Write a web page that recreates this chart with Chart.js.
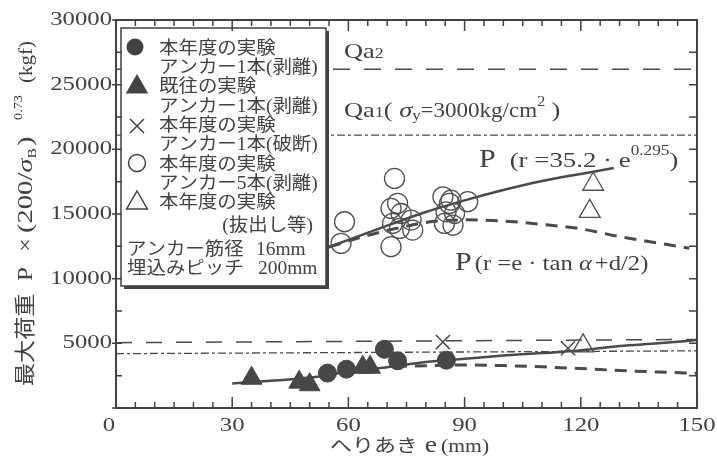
<!DOCTYPE html>
<html>
<head>
<meta charset="utf-8">
<script src="https://cdn.jsdelivr.net/npm/chart.js@4.4.1/dist/chart.umd.min.js"></script>
<style>
  body { margin: 0; background: #fff; }
  canvas { display: block; }
</style>
</head>
<body>
<canvas id="chart" width="717" height="461"></canvas>
<script>
// measured points (e in mm, P in kgf)
const filledCircleE = [54.6, 59.5, 69.3, 72.7, 85.3];
const filledCircleP = [2700, 3000, 4540, 3650, 3700];

const filledTriE = [35.0, 47.3, 50.0, 63.7, 65.6];
const filledTriP = [2300, 2000, 1800, 3150, 3150];

const crossE = [84.4, 116.7];
const crossP = [5100, 4620];

const openCircleE = [59.0, 58.1, 71.9, 72.7, 71.0, 73.6, 71.4, 76.2, 76.6, 73.2, 71.0, 84.4, 86.1, 85.2, 84.8, 87.0, 87.4, 90.8, 86.5];
const openCircleP = [14400, 12730, 17750, 15820, 15430, 15040, 14270, 14530, 13760, 13890, 12470, 16330, 15820, 15170, 14270, 14140, 15040, 15950, 16070];

const openTriE = [120.6, 123.2, 122.3];
const openTriP = [4800, 17300, 15200];

// curves
const fitHighE = [55, 60, 70, 80, 90, 100, 110, 120, 128.5];
const fitHighP = [12450, 13000, 14100, 15150, 16050, 16850, 17550, 18100, 18550];

const tanHighE = [55, 65, 74, 80, 90, 100, 110, 120, 130, 140, 148];
const tanHighP = [12450, 13350, 14000, 14350, 14550, 14450, 14200, 13850, 13250, 12750, 12350];

const fitLowE = [30, 40, 50, 60, 70, 80, 90, 100, 110, 118, 130, 140, 150];
const fitLowP = [1900, 2100, 2350, 2800, 3150, 3550, 3800, 4050, 4250, 4400, 4800, 5000, 5250];

const tanLowE = [72, 80, 90, 100, 110, 120, 130, 140, 150];
const tanLowP = [3200, 3270, 3320, 3280, 3180, 3050, 2900, 2780, 2680];

const limitE = [0, 150];
const qa2HighP = [26200, 26200];
const qa2LowP = [5050, 5300];
const qa1HighP = [21100, 21100];
const qa1LowP = [4200, 4420];

const xLabels = [0, 30, 60, 90, 120, 150];
const yLabels = [5000, 10000, 15000, 20000, 25000, 30000];

const SERIF = '"Liberation Serif", "Noto Sans CJK JP"';
const CJK = '"Noto Sans CJK JP", "Liberation Serif"';
const INK = '#424242';

const pts = (xs, ys) => xs.map((x, i) => ({ x: x, y: ys[i] }));

function marks(data, style, r, fill, border, bw) {
  return {
    data: data, showLine: false, order: 0,
    pointStyle: style, pointRadius: r, pointHoverRadius: r,
    backgroundColor: fill, borderColor: border, pointBorderWidth: bw
  };
}
function curve(data, dash, width, smooth) {
  return {
    data: data, showLine: true, order: 1, pointRadius: 0, pointHoverRadius: 0,
    borderColor: '#4a4a4a', borderWidth: width, borderDash: dash,
    tension: smooth ? 0.4 : 0, cubicInterpolationMode: smooth ? 'monotone' : 'default'
  };
}

// draw a run of text pieces, left to right, from (x, y) on the alphabetic baseline
// a piece with "at" is placed at that offset from x instead of after the previous one
function run(ctx, parts, x, y) {
  let cx = x;
  parts.forEach(p => {
    if (p.at !== undefined) cx = x + p.at;
    const sx = p.sx || 1.2;
    ctx.font = (p.italic ? 'italic ' : '') + p.px + 'px ' + (p.family || SERIF);
    const w = ctx.measureText(p.t).width * sx;
    ctx.save();
    ctx.translate(cx, y + (p.dy || 0));
    ctx.scale(sx, 1);
    ctx.textAlign = 'left';
    ctx.textBaseline = 'alphabetic';
    ctx.fillText(p.t, 0, 0);
    ctx.restore();
    cx += w + (p.gap || 0);
  });
  return cx - x;
}
function label(ctx, s, x, y, px, align, sx) {
  sx = sx || 1.3;
  ctx.font = px + 'px ' + SERIF;
  const w = ctx.measureText(s).width * sx;
  let left = x;
  if (align === 'right') left = x - w;
  if (align === 'center') left = x - w / 2;
  ctx.save();
  ctx.translate(left, y);
  ctx.scale(sx, 1);
  ctx.textAlign = 'left';
  ctx.textBaseline = 'middle';
  ctx.fillText(s, 0, 0);
  ctx.restore();
}

const decor = {
  id: 'decor',
  afterDatasetsDraw(chart) {
    const ctx = chart.ctx;
    const a = chart.chartArea;
    const xs = chart.scales.x, ys = chart.scales.y;
    ctx.save();
    ctx.fillStyle = INK;
    ctx.strokeStyle = INK;

    // legend box
    const bx = 121, by = 28, bw = 205, bh = 258;
    ctx.fillStyle = '#fff';
    ctx.fillRect(bx, by, bw, bh);
    ctx.lineWidth = 1.5;
    ctx.strokeRect(bx, by, bw, bh);
    ctx.fillStyle = INK;
    ctx.fillRect(bx + bw, by + 3, 3, bh);
    ctx.fillRect(bx + 3, by + bh, bw, 3);

    // frame
    ctx.lineWidth = 2;
    ctx.strokeRect(a.left, a.top, a.right - a.left, a.bottom - a.top);

    // ticks, all pointing inward
    ctx.lineWidth = 1.5;
    ctx.beginPath();
    for (let e = 0; e <= 150; e += 5) {
      const px = xs.getPixelForValue(e);
      const len = e % 30 === 0 ? 11 : 6;
      ctx.moveTo(px, a.bottom); ctx.lineTo(px, a.bottom - len);
      ctx.moveTo(px, a.top); ctx.lineTo(px, a.top + len);
    }
    for (let v = 0; v <= 30000; v += 2500) {
      const py = ys.getPixelForValue(v);
      const major = v % 5000 === 0;
      ctx.moveTo(a.left - (major ? 4 : 0), py); ctx.lineTo(a.left + 6, py);
      ctx.moveTo(a.right, py); ctx.lineTo(a.right - 8, py);
    }
    ctx.stroke();

    // tick labels
    yLabels.forEach(v => label(ctx, String(v), a.left - 4, ys.getPixelForValue(v), 19, 'right'));
    xLabels.forEach(v => {
      const px = v === 0 ? a.left - 7 : xs.getPixelForValue(v);
      label(ctx, String(v), px, 426, 19, 'center');
    });

    // x title
    run(ctx, [
      { t: 'へりあき', px: 18, family: CJK, sx: 1.22, gap: 7 },
      { t: 'e', px: 23, sx: 1.2, gap: 4 },
      { t: '(mm)', px: 18, sx: 1.2 }
    ], 330, 452);

    // y title, rotated
    ctx.save();
    ctx.translate(32, 386);
    ctx.rotate(-Math.PI / 2);
    run(ctx, [
      { t: '最大荷重', px: 21, family: CJK, sx: 1.1, at: 0 },
      { t: 'P', px: 22, sx: 1.15, at: 105 },
      { t: '×', px: 20, sx: 1.2, at: 134 },
      { t: '(200/', px: 22, sx: 1.3, at: 153 },
      { t: 'σ', px: 22, sx: 1.3, italic: true },
      { t: 'B', px: 13, sx: 1.2, dy: 4, gap: 2 },
      { t: ')', px: 22, sx: 1.3 },
      { t: '0.73', px: 13, sx: 1.1, dy: -10, at: 266 },
      { t: '(kgf)', px: 18, sx: 1.17, at: 303 }
    ], 0, 0);
    ctx.restore();

    // annotations in the plot
    run(ctx, [{ t: 'Qa', px: 22 }, { t: '2', px: 15 }], 344, 58);
    run(ctx, [
      { t: 'Qa', px: 22 }, { t: '1', px: 15 }, { t: '( ', px: 22 },
      { t: 'σ', px: 22, italic: true }, { t: 'y', px: 14, dy: 3 },
      { t: '=3000kg/cm', px: 20, sx: 1.15 }, { t: '2', px: 14, dy: -11, gap: 6 },
      { t: ')', px: 22 }
    ], 344, 117);
    run(ctx, [
      { t: 'P', px: 25, gap: 14 }, { t: '(r =35.2 · e', px: 22, sx: 1.22 },
      { t: '0.295', px: 15, dy: -12, sx: 1.15 }, { t: ')', px: 22 }
    ], 479, 167);
    run(ctx, [
      { t: 'P', px: 25, gap: 3 }, { t: '(r =e · tan ', px: 22, sx: 1.12 },
      { t: 'α', px: 22, italic: true, sx: 1.12, gap: 3 }, { t: '+d/2)', px: 22, sx: 1.12 }
    ], 455, 270);

    // legend symbols
    ctx.lineWidth = 1.5;
    ctx.beginPath(); ctx.arc(135, 47, 8.5, 0, Math.PI * 2); ctx.fill();
    const tri = (cx, cy, r, filled) => {
      ctx.beginPath();
      ctx.moveTo(cx, cy - r);
      ctx.lineTo(cx + r * 0.866, cy + r / 2);
      ctx.lineTo(cx - r * 0.866, cy + r / 2);
      ctx.closePath();
      filled ? ctx.fill() : ctx.stroke();
    };
    tri(137, 87, 13, true);
    ctx.beginPath();
    ctx.moveTo(130, 119); ctx.lineTo(144, 133); ctx.moveTo(144, 119); ctx.lineTo(130, 133);
    ctx.stroke();
    ctx.beginPath(); ctx.arc(137, 163, 8.5, 0, Math.PI * 2); ctx.stroke();
    tri(137, 203, 12, false);

    // legend text
    const lt = (s, x, y) => run(ctx, [{ t: s, px: 18, family: SERIF, sx: 1.08 }], x, y);
    lt('本年度の実験', 159, 54);
    lt('アンカー1本(剥離)', 159, 73);
    lt('既往の実験', 159, 92);
    lt('アンカー1本(剥離)', 159, 112);
    lt('本年度の実験', 159, 131);
    lt('アンカー1本(破断)', 159, 150);
    lt('本年度の実験', 159, 170);
    lt('アンカー5本(剥離)', 159, 189);
    lt('本年度の実験', 159, 208);
    ctx.font = '18px ' + SERIF;
    const w = ctx.measureText('(抜出し等)').width * 1.08;
    lt('(抜出し等)', 313 - w, 231);
    lt('アンカー筋径', 127, 255);
    lt('16mm', 256, 255);
    lt('埋込みピッチ', 127, 274);
    lt('200mm', 258, 274);

    ctx.restore();
  }
};

new Chart(document.getElementById('chart'), {
  type: 'scatter',
  data: {
    datasets: [
      marks(pts(filledCircleE, filledCircleP), 'circle', 9, '#474747', '#474747', 1),
      marks(pts(filledTriE, filledTriP), 'triangle', 12, '#474747', '#474747', 1),
      marks(pts(crossE, crossP), 'crossRot', 10, 'rgba(0,0,0,0)', '#4a4a4a', 1.5),
      marks(pts(openCircleE, openCircleP), 'circle', 10, 'rgba(0,0,0,0)', '#505050', 1.3),
      marks(pts(openTriE, openTriP), 'triangle', 12, 'rgba(0,0,0,0)', '#505050', 1.3),
      curve(pts(fitHighE, fitHighP), [], 2.5, true),
      curve(pts(tanHighE, tanHighP), [12, 8], 3, true),
      curve(pts(fitLowE, fitLowP), [], 2.5, true),
      curve(pts(tanLowE, tanLowP), [12, 8], 3, true),
      curve(pts(limitE, qa2HighP), [17, 14], 1.5, false),
      curve(pts(limitE, qa2LowP), [16, 14], 1.5, false),
      curve(pts(limitE, qa1HighP), [8, 3, 3, 3], 1.3, false),
      curve(pts(limitE, qa1LowP), [8, 3, 3, 3], 1.3, false)
    ]
  },
  options: {
    responsive: false,
    animation: false,
    devicePixelRatio: 1,
    layout: { padding: { left: 116, top: 20, right: 20, bottom: 53 } },
    scales: {
      x: { type: 'linear', min: 0, max: 150, display: false },
      y: { type: 'linear', min: 0, max: 30000, display: false }
    },
    plugins: { legend: { display: false }, tooltip: { enabled: false } }
  },
  plugins: [decor]
});
</script>
</body>
</html>
